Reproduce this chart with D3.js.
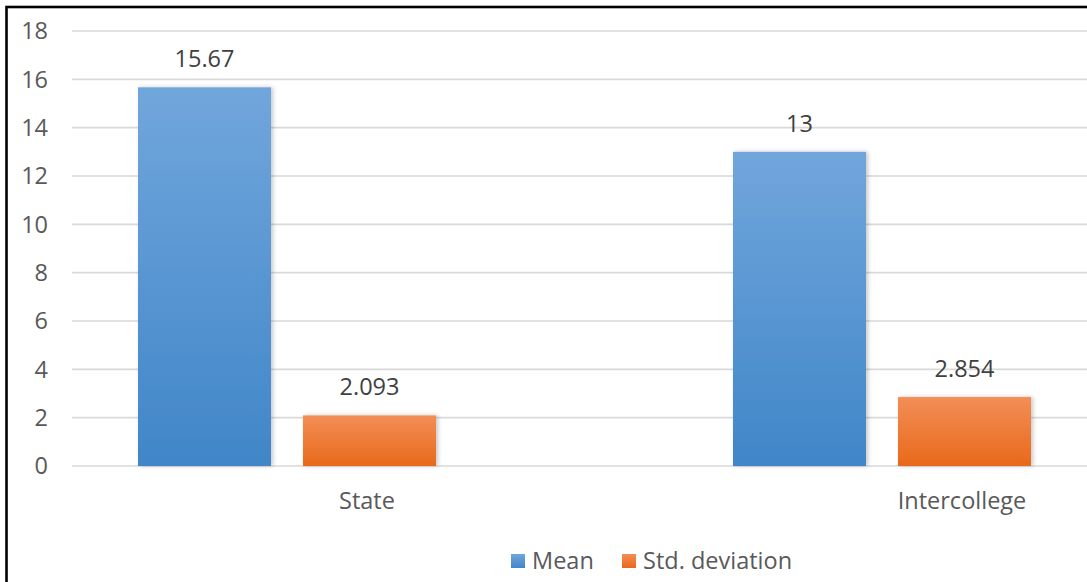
<!DOCTYPE html>
<html>
<head>
<meta charset="utf-8">
<script src="https://cdn.jsdelivr.net/npm/d3@7"></script>
<style>
  html, body { margin: 0; padding: 0; background: #fff; }
  svg { display: block; }
  text { font-family: "Open Sans", "Noto Sans", sans-serif; }
</style>
</head>
<body>
<svg id="chart" width="1087" height="582"></svg>
<script>
const categories = ["State", "Intercollege"];
const seriesNames = ["Mean", "Std. deviation"];
const meanValues = [15.67, 13];
const stdValues = [2.093, 2.854];
const valueLabels = [["15.67", "2.093"], ["13", "2.854"]];
const yTicks = [0, 2, 4, 6, 8, 10, 12, 14, 16, 18];

const W = 1087, H = 582;
const FS = 23.5;
const svg = d3.select("#chart");

// frame (cropped Excel chart border)
svg.append("rect").attr("x", 6.5).attr("y", 7).attr("width", W + 20).attr("height", H + 20)
  .attr("fill", "#fff").attr("stroke", "#000").attr("stroke-width", 2.6);

const defs = svg.append("defs");
const grads = [["gMean", "#71a6dc", "#4086c8"], ["gStd", "#f38e57", "#e8691a"]];
grads.forEach(([id, c1, c2]) => {
  const g = defs.append("linearGradient").attr("id", id).attr("x1", 0).attr("y1", 0).attr("x2", 0).attr("y2", 1);
  g.append("stop").attr("offset", "0%").attr("stop-color", c1);
  g.append("stop").attr("offset", "100%").attr("stop-color", c2);
});
const f = defs.append("filter").attr("id", "sh").attr("x", "-10%").attr("y", "-10%").attr("width", "130%").attr("height", "120%");
f.append("feDropShadow").attr("dx", 2).attr("dy", 0).attr("stdDeviation", 2).attr("flood-color", "#000").attr("flood-opacity", 0.22);

const plotLeft = 72, plotRight = W;
const y = d3.scaleLinear().domain([0, 18]).range([466, 31]);
const x0 = d3.scalePoint().domain(categories).range([287, 882]);
const x1 = d3.scaleBand().domain(seriesNames).range([-149, 149]).paddingInner(0.194);
const labelOffset = 80;

// grid lines
svg.append("g").selectAll("line").data(yTicks).join("line")
  .attr("x1", plotLeft).attr("x2", plotRight)
  .attr("y1", d => y(d)).attr("y2", d => y(d))
  .attr("stroke", "#d9d9d9").attr("stroke-width", 1.6);

// y tick labels
svg.append("g").selectAll("text").data(yTicks).join("text")
  .attr("x", 48).attr("y", d => y(d)).attr("dy", "0.35em")
  .attr("text-anchor", "end").attr("font-size", FS).attr("fill", "#595959")
  .text(d => d);

const data = categories.map((c, i) => ({
  cat: c,
  vals: [
    { s: seriesNames[0], v: meanValues[i], lab: valueLabels[i][0], fill: "url(#gMean)" },
    { s: seriesNames[1], v: stdValues[i], lab: valueLabels[i][1], fill: "url(#gStd)" }
  ]
}));

const groups = svg.append("g").selectAll("g").data(data).join("g")
  .attr("transform", d => `translate(${x0(d.cat)},0)`);

groups.selectAll("rect").data(d => d.vals).join("rect")
  .attr("x", d => x1(d.s)).attr("width", x1.bandwidth())
  .attr("y", d => y(d.v)).attr("height", d => y(0) - y(d.v))
  .attr("fill", d => d.fill).attr("filter", "url(#sh)");

groups.selectAll("text.val").data(d => d.vals).join("text")
  .attr("class", "val")
  .attr("x", d => x1(d.s) + x1.bandwidth() / 2).attr("y", d => y(d.v) - 20)
  .attr("text-anchor", "middle").attr("font-size", FS).attr("fill", "#404040")
  .text(d => d.lab);

// category labels
svg.append("g").selectAll("text").data(categories).join("text")
  .attr("x", d => x0(d) + labelOffset).attr("y", 509)
  .attr("text-anchor", "middle").attr("font-size", FS).attr("fill", "#595959")
  .text(d => d);

// legend
const legendX = [511, 622];
const lg = svg.append("g").selectAll("g").data(seriesNames).join("g")
  .attr("transform", (d, i) => `translate(${legendX[i]},561)`);
lg.append("rect").attr("x", 0).attr("y", -7).attr("width", 14).attr("height", 14)
  .attr("fill", (d, i) => i === 0 ? "url(#gMean)" : "url(#gStd)");
lg.append("text").attr("x", 21).attr("y", 0).attr("dy", "0.35em")
  .attr("font-size", FS).attr("fill", "#595959").text(d => d);
</script>
</body>
</html>
